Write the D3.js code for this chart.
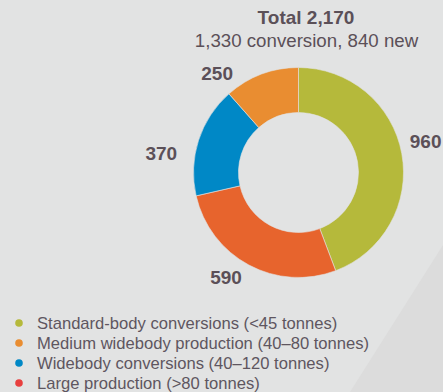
<!DOCTYPE html>
<html><head><meta charset="utf-8">
<script src="https://cdn.jsdelivr.net/npm/d3@7"></script>
<style>
html,body{margin:0;padding:0;background:#e2e3e3;}
svg{display:block;font-family:"Liberation Sans",Arial,Helvetica,sans-serif;}
</style></head>
<body><svg id="c" width="443" height="392"></svg>
<script>
const categories = ["Standard-body conversions (<45 tonnes)","Large production (>80 tonnes)","Widebody conversions (40–120 tonnes)","Medium widebody production (40–80 tonnes)"];
const values = [960, 590, 370, 250];
const sliceColors = ["#b5b93b", "#e7642d", "#0088c6", "#e98d31"];
const legendColors = ["#b5b93b", "#e8403f", "#0088c6", "#e98d31"];
const legendOrder = [0, 3, 2, 1];
const labelAngles = [76.1, 214.5, 277.7, 320.7];
const labelRadii = [131, 128, 138.5, 128.5];
const titleText = "Total 2,170";
const subtitleText = "1,330 conversion, 840 new";

const svg = d3.select("#c");
const W = 443, H = 392;
svg.append("rect").attr("width", W).attr("height", H).attr("fill", "#e2e3e3");
svg.append("path").attr("d", d3.line()([[443,245],[350,392],[443,392]])).attr("fill", "#dcdcdc");

const cx = 298.5, cy = 172.5, R = 105, r = 60;
const pie = d3.pie().sort(null).value(d => d);
const arc = d3.arc().innerRadius(r).outerRadius(R);
const g = svg.append("g").attr("transform", `translate(${cx},${cy})`);
const arcs = pie(values);
g.selectAll("path.s").data(arcs).enter().append("path")
  .attr("d", arc).attr("fill", (d,i) => sliceColors[i])
  .attr("stroke", "#e2e3e3").attr("stroke-width", 0.6);

const txt = "#5b5058";
g.selectAll("text.v").data(arcs).enter().append("text")
  .attr("x", (d,i) => labelRadii[i] * Math.sin(labelAngles[i]*Math.PI/180))
  .attr("y", (d,i) => -labelRadii[i] * Math.cos(labelAngles[i]*Math.PI/180))
  .attr("text-anchor", "middle").attr("dominant-baseline", "central")
  .attr("font-size", 19).attr("font-weight", "bold").attr("fill", txt)
  .text(d => d3.format(",")(d.data));

svg.append("text").attr("x", 306).attr("y", 24).attr("text-anchor", "middle")
  .attr("font-size", 19).attr("font-weight", "bold").attr("fill", txt).text(titleText);
svg.append("text").attr("x", 306.5).attr("y", 47).attr("text-anchor", "middle")
  .attr("font-size", 18.7).attr("fill", txt).text(subtitleText);

const ly = d3.scaleBand().domain(d3.range(4)).range([313, 393]);
const lg = svg.selectAll("g.l").data(legendOrder).enter().append("g")
  .attr("transform", (d,i) => `translate(0,${ly(i) + ly.bandwidth()/2})`);
lg.append("circle").attr("cx", 19).attr("cy", 0).attr("r", 3.8).attr("fill", d => legendColors[d]);
lg.append("text").attr("x", 37).attr("y", 0).attr("dominant-baseline", "central")
  .attr("font-size", 16.6).attr("fill", "#5e5660").text(d => categories[d]);
</script></body></html>
